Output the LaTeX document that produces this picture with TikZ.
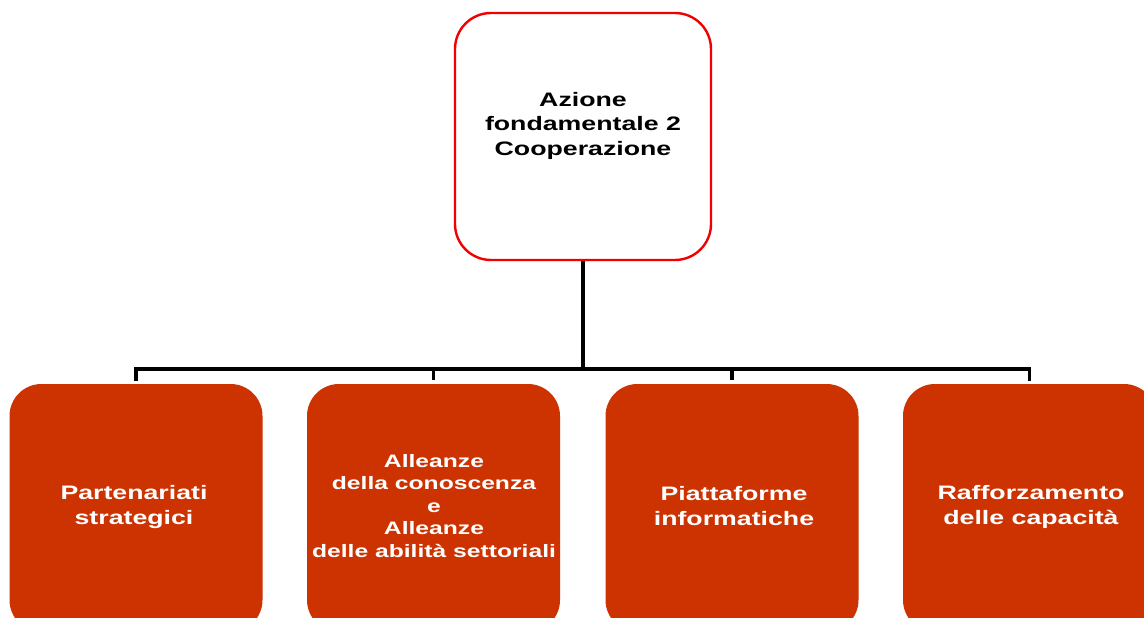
\documentclass[tikz,border=0pt]{standalone}
\usepackage{fontspec}
\setmainfont{Liberation Sans}[FakeStretch=1.37]
\definecolor{boxred}{HTML}{CC3300}
\definecolor{topred}{HTML}{F00000}
\begin{document}
\begin{tikzpicture}[x=1pt,y=-1pt,
  topbox/.style={draw=topred,line width=2.4pt,fill=white,rounded corners=36pt,
    minimum width=256pt,minimum height=247pt,inner sep=0pt},
  childbox/.style={fill=boxred,rounded corners=32pt,minimum width=253pt,
    minimum height=248pt,inner sep=0pt},
  toplabel/.style={align=center,font=\bfseries\fontsize{19.5}{24.5}\selectfont,text=black},
  childlabel/.style={align=center,font=\bfseries\fontsize{19.5}{25}\selectfont,text=white},
  conn/.style={draw=black,line width=3.2pt}]
\useasboundingbox (0,0) rectangle (1144,618);
\clip (0,0) rectangle (1144,618);
\fill[white] (0,0) rectangle (1144,618);
% top box
\node[topbox] (top) at (583,136.5) {};
\node[toplabel] (toptxt) at (583,125.5) {Azione\\fondamentale 2\\Cooperazione};
% children
\node[childbox] (b1) at (136,508) {};
\node[childbox] (b2) at (433.5,508) {};
\node[childbox] (b3) at (732,508) {};
\node[childbox] (b4) at (1029.5,508) {};
\node[childlabel] (t1) at (134,506.5) {Partenariati\\strategici};
\node[childlabel,font=\bfseries\fontsize{18}{22.5}\selectfont] (t2) at (434,506) {Alleanze\\della conoscenza\\e\\Alleanze\\delle abilità settoriali};
\node[childlabel] (t3) at (734,506.5) {Piattaforme\\informatiche};
\node[childlabel] (t4) at (1031,506.5) {Rafforzamento\\delle capacità};
% connectors
\coordinate (bus) at (583,369);
\draw[conn,line width=4pt] (top.south) -- (bus);
\draw[conn,line cap=rect] (bus) -| ([yshift=4pt]b1.north);
\draw[conn] (bus) -| ([yshift=4pt]b2.north);
\draw[conn] (bus) -| ([yshift=4pt]b3.north);
\draw[conn,line cap=rect] (bus) -| ([yshift=4pt]b4.north);
\end{tikzpicture}
\end{document}
